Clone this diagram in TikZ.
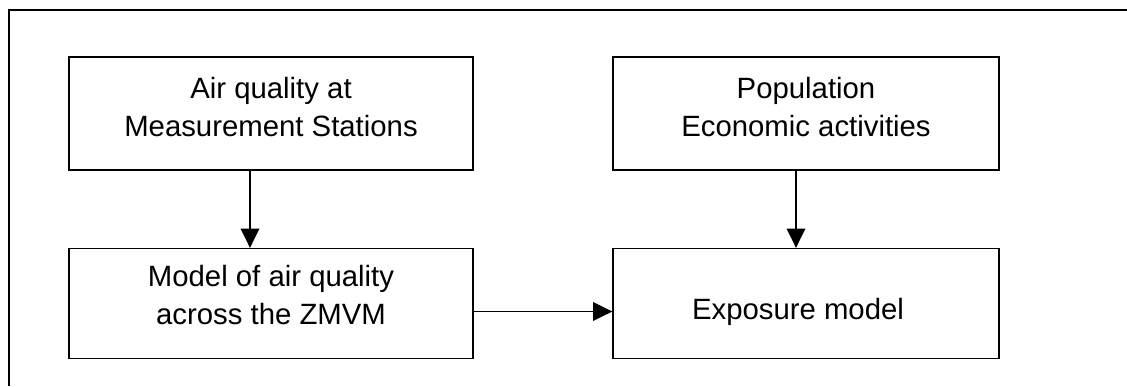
\documentclass[tikz,border=0pt]{standalone}
\usepackage{fontspec}
\setmainfont{Liberation Sans}
\usetikzlibrary{arrows.meta}

\tikzset{
  stage/.style={draw, line width=1pt, inner sep=0pt},
  caption/.style={align=center, inner sep=0pt,
    font=\fontsize{22}{28.5}\selectfont},
  flow/.style={-{Triangle[length=14.5pt,width=14pt]}, line width=1pt},
}

\begin{document}
\begin{tikzpicture}[x=0.75pt, y=-0.75pt]
\useasboundingbox (0,0) rectangle (1127,386);
% outer frame, cut at the page edge
\draw[line width=1pt] (9,386) |- (1127,10);

% boxes
\node[stage, minimum width=303pt, minimum height=84.75pt] (air) at (271,113.5) {};
\node[stage, minimum width=303pt, minimum height=82.5pt] (model) at (271,303.5) {};
\node[stage, minimum width=289.5pt, minimum height=84.75pt] (pop) at (806,113.5) {};
\node[stage, minimum width=289.5pt, minimum height=82.5pt] (expo) at (806,303.5) {};

% texts
\node[caption] (airtxt) at ([yshift=5pt]air.center) {Air quality at\\Measurement Stations};
\node[caption] (modeltxt) at ([yshift=6.5pt]model.center) {Model of air quality\\across the ZMVM};
\node[caption] (poptxt) at ([yshift=4.5pt]pop.center) {Population\\Economic activities};
\node[caption] (expotxt) at ([xshift=-6pt,yshift=-6pt]expo.center) {Exposure model};

% arrows
\draw[flow] ([xshift=-15.75pt]air.south) -- ([xshift=-15.75pt]model.north);
\draw[flow] ([xshift=-7.5pt]pop.south) -- ([xshift=-7.5pt]expo.north);
\draw[flow] ([yshift=-6pt]model.east) -- ([yshift=-6pt]expo.west);
\end{tikzpicture}
\end{document}
